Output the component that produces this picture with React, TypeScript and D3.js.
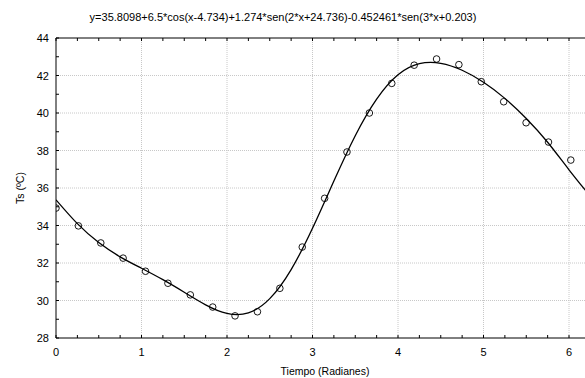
import { useMemo } from "react";
import { line, curveNatural, range, scaleLinear } from "d3";

const WIDTH = 585;
const HEIGHT = 378;
const M = { left: 56, top: 38, right: 0, bottom: 40 };

const TITLE = "y=35.8098+6.5*cos(x-4.734)+1.274*sen(2*x+24.736)-0.452461*sen(3*x+0.203)";
const X_LABEL = "Tiempo (Radianes)";
const Y_LABEL = "Ts (ºC)";

// observed points (time in radians, temperature)
const obsX = [0, 0.262, 0.524, 0.785, 1.047, 1.309, 1.571, 1.833, 2.094, 2.356, 2.618, 2.88, 3.142, 3.403, 3.665, 3.927, 4.189, 4.451, 4.712, 4.974, 5.236, 5.498, 5.76, 6.021];
const obsY = [34.93, 33.98, 33.07, 32.26, 31.56, 30.92, 30.3, 29.65, 29.18, 29.4, 30.65, 32.85, 35.45, 37.92, 40.0, 41.58, 42.55, 42.88, 42.58, 41.67, 40.6, 39.48, 38.45, 37.49];

// fitted curve
const fitX = [0, 0.25, 0.5, 0.75, 1, 1.25, 1.5, 1.75, 2, 2.25, 2.5, 2.75, 3, 3.25, 3.5, 3.75, 4, 4.25, 4.5, 4.75, 5, 5.25, 5.5, 5.75, 6, 6.25];
const fitY = [35.37, 34.1, 33.09, 32.33, 31.72, 31.11, 30.44, 29.77, 29.31, 29.34, 30.1, 31.65, 33.85, 36.37, 38.79, 40.74, 42.04, 42.63, 42.65, 42.28, 41.64, 40.78, 39.71, 38.44, 36.97, 35.55];

const xTicks = [0, 1, 2, 3, 4, 5, 6];
const yTicks = [28, 30, 32, 34, 36, 38, 40, 42, 44];

const FONT = "'Liberation Sans', Arial, sans-serif";

export default function App() {
  const x = useMemo(() => scaleLinear().domain([0, 6.187]).range([M.left, WIDTH - M.right]), []);
  const y = useMemo(() => scaleLinear().domain([28, 44]).range([HEIGHT - M.bottom, M.top]), []);
  const fitPath = useMemo(
    () =>
      line<number>()
        .x((_, i) => x(fitX[i]))
        .y((v) => y(v))
        .curve(curveNatural)(fitY),
    [x, y]
  );
  const x0 = x.range()[0];
  const x1 = x.range()[1];
  const y0 = y.range()[0];
  const y1 = y.range()[1];
  const minorX = range(0, 6.2, 0.25);
  const minorY = range(28, 44.1, 1);

  return (
    <svg width={WIDTH} height={HEIGHT} style={{ position: "absolute", left: 0, top: 0 }} fontFamily={FONT}>
      <defs>
        <clipPath id="plot">
          <rect x={x0} y={y1} width={x1 - x0} height={y0 - y1} />
        </clipPath>
      </defs>
      <rect width={WIDTH} height={HEIGHT} fill="#fff" />
      <text x={283} y={21} fontSize={11} textAnchor="middle">{TITLE}</text>

      {xTicks.filter((t) => t > 0).map((t) => (
        <line key={"gx" + t} x1={x(t)} x2={x(t)} y1={y1} y2={y0} stroke="#c8c8c8" strokeDasharray="1,1" />
      ))}
      {yTicks.filter((t) => t > 28 && t < 44).map((t) => (
        <line key={"gy" + t} x1={x0} x2={x1} y1={y(t)} y2={y(t)} stroke="#c8c8c8" strokeDasharray="1,1" />
      ))}

      {minorX.map((t) => (
        <g key={"tx" + t} stroke="#000">
          <line x1={x(t)} x2={x(t)} y1={y0} y2={y0 - 3} />
          <line x1={x(t)} x2={x(t)} y1={y1} y2={y1 + 3} />
        </g>
      ))}
      {minorY.map((t) => (
        <line key={"ty" + t} x1={x0} x2={x0 + 3} y1={y(t)} y2={y(t)} stroke="#000" />
      ))}

      <g clipPath="url(#plot)">
        {fitPath ? <path d={fitPath} fill="none" stroke="#000" strokeWidth={1.3} /> : null}
        {obsX.map((v, i) => (
          <circle key={i} cx={x(v)} cy={y(obsY[i])} r={3.3} fill="none" stroke="#000" strokeWidth={0.9} />
        ))}
      </g>

      <line x1={x0} x2={x0} y1={y1} y2={y0} stroke="#000" />
      <line x1={x0} x2={x1} y1={y0} y2={y0} stroke="#000" />
      <line x1={x0} x2={x1} y1={y1} y2={y1} stroke="#000" />

      {xTicks.map((t) => (
        <text key={"lx" + t} x={x(t)} y={356} fontSize={11} textAnchor="middle">{t}</text>
      ))}
      {yTicks.map((t) => (
        <text key={"ly" + t} x={49} y={y(t) + 4} fontSize={11} textAnchor="end">{t}</text>
      ))}
      <text x={325} y={375} fontSize={10.5} textAnchor="middle">{X_LABEL}</text>
      <text transform={`translate(24,${(y0 + y1) / 2}) rotate(-90)`} fontSize={10.5} textAnchor="middle">{Y_LABEL}</text>
    </svg>
  );
}
